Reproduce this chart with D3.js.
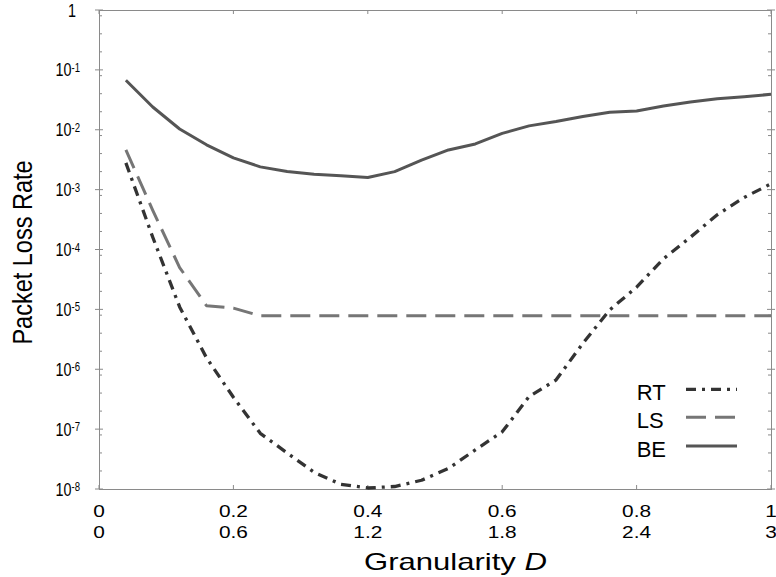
<!DOCTYPE html>
<meta charset="utf-8">
<style>

body {
  margin: 0;
  background: #fff;
  font-family: Arial, "Liberation Sans", Helvetica, sans-serif;
}

.frame { fill: none; stroke: #8a8a8a; stroke-width: 1; }
.tick { stroke: #8a8a8a; stroke-width: 1; }
.series { fill: none; stroke-linejoin: round; }

</style>
<body>
<script src="https://cdnjs.cloudflare.com/ajax/libs/d3/7.8.5/d3.min.js"></script>
<script>

// granularity (top row of x labels), one point every 0.04
var granularity = [0.04, 0.08, 0.12, 0.16, 0.20, 0.24, 0.28, 0.32, 0.36, 0.40,
                   0.44, 0.48, 0.52, 0.56, 0.60, 0.64, 0.68, 0.72, 0.76, 0.80,
                   0.84, 0.88, 0.92, 0.96, 1.00];

var rtLoss = [2.8e-3, 1.6e-4, 1.1e-5, 1.55e-6, 3.4e-7, 8.5e-8, 4.0e-8, 1.9e-8, 1.2e-8, 1.04e-8,
              1.1e-8, 1.4e-8, 2.2e-8, 4.5e-8, 9.0e-8, 3.5e-7, 6.6e-7, 2.7e-6, 9.8e-6, 2.35e-5,
              7.0e-5, 1.6e-4, 3.8e-4, 7.4e-4, 1.25e-3];

var lsLoss = [4.6e-3, 4.5e-4, 5.0e-5, 1.15e-5, 1.05e-5, 7.8e-6, 7.8e-6, 7.8e-6, 7.8e-6, 7.8e-6,
              7.8e-6, 7.8e-6, 7.8e-6, 7.8e-6, 7.8e-6, 7.8e-6, 7.8e-6, 7.8e-6, 7.8e-6, 7.8e-6,
              7.8e-6, 7.8e-6, 7.8e-6, 7.8e-6, 7.8e-6];

var beLoss = [0.067, 0.024, 0.0103, 0.0056, 0.0034, 0.0024, 0.0020, 0.0018, 0.0017, 0.00159,
              0.0020, 0.0031, 0.0046, 0.0058, 0.0087, 0.0116, 0.0137, 0.0166, 0.0196, 0.0206,
              0.0249, 0.0291, 0.033, 0.0357, 0.039];

var seriesNames = ["RT", "LS", "BE"];
var seriesColors = ["#333333", "#767676", "#555555"];
var seriesDash = ["10,6,3,6", "20,9", null];
var seriesWidth = [3.3, 3, 3];

var xTicks = [0, 0.2, 0.4, 0.6, 0.8, 1];
var xTickLabels = ["0", "0.2", "0.4", "0.6", "0.8", "1"];
var xTickLabels2 = ["0", "0.6", "1.2", "1.8", "2.4", "3"];
var yExponents = [0, -1, -2, -3, -4, -5, -6, -7, -8];
var yMinorMult = [2, 4, 8];

var width = 776;
var height = 577;
var plotLeft = 99, plotRight = 771, plotTop = 10, plotBottom = 489;

var x = d3.scaleLinear().domain([0, 1]).range([plotLeft, plotRight]);
var y = d3.scaleLog().domain([1e-8, 1]).range([plotBottom, plotTop]);

var svg = d3.select("body").append("svg")
    .attr("width", width)
    .attr("height", height);

// minor tick values
var minors = [];
yExponents.forEach(function(e) {
  if (e > -8) {
    yMinorMult.forEach(function(m) { minors.push(m * Math.pow(10, e - 1)); });
  }
});

// ticks on left and right sides
[plotLeft, plotRight].forEach(function(xx, side) {
  var dir = side == 0 ? 1 : -1;
  svg.selectAll(null)
      .data(yExponents)
    .enter().append("line")
      .attr("class", "tick")
      .attr("x1", xx - 4 * dir)
      .attr("x2", xx + 4 * dir)
      .attr("y1", function(e) { return y(Math.pow(10, e)); })
      .attr("y2", function(e) { return y(Math.pow(10, e)); });
  svg.selectAll(null)
      .data(minors)
    .enter().append("line")
      .attr("class", "tick")
      .attr("x1", xx)
      .attr("x2", xx + 3 * dir)
      .attr("y1", function(d) { return y(d); })
      .attr("y2", function(d) { return y(d); });
});

[plotBottom, plotTop].forEach(function(yy, side) {
  var dir = side == 0 ? -1 : 1;
  svg.selectAll(null)
      .data(xTicks)
    .enter().append("line")
      .attr("class", "tick")
      .attr("x1", function(d) { return x(d); })
      .attr("x2", function(d) { return x(d); })
      .attr("y1", yy)
      .attr("y2", yy + 4 * dir);
});

svg.append("rect")
    .attr("class", "frame")
    .attr("x", plotLeft + 0.5)
    .attr("y", plotTop + 0.5)
    .attr("width", plotRight - plotLeft)
    .attr("height", plotBottom - plotTop);

// y tick labels: 1, 10^-1 ... 10^-8
var yLab = svg.selectAll(null)
    .data(yExponents)
  .enter().append("text")
    .attr("text-anchor", "end")
    .attr("font-size", 18)
    .attr("transform", function(e) {
      var xx = e == 0 ? 76 : 80;
      return "translate(" + xx + "," + (y(Math.pow(10, e)) + 6.5) + ") scale(0.8,1)";
    });

yLab.each(function(e) {
  var t = d3.select(this);
  if (e == 0) {
    t.text("1");
  } else {
    t.append("tspan").text("10");
    t.append("tspan").attr("font-size", 12).attr("dy", -4.5).text(e);
  }
});

// x tick labels, two rows
svg.selectAll(null)
    .data(xTicks)
  .enter().append("text")
    .attr("text-anchor", "middle")
    .attr("font-size", 16.3)
    .attr("transform", function(d) { return "translate(" + x(d) + ",516.7) scale(1.28,1)"; })
    .text(function(d, i) { return xTickLabels[i]; });

svg.selectAll(null)
    .data(xTicks)
  .enter().append("text")
    .attr("text-anchor", "middle")
    .attr("font-size", 16.3)
    .attr("transform", function(d) { return "translate(" + x(d) + ",538.3) scale(1.28,1)"; })
    .text(function(d, i) { return xTickLabels2[i]; });

// axis titles
var xTitle = svg.append("text")
    .attr("text-anchor", "middle")
    .attr("font-size", 23)
    .attr("transform", "translate(455.5,570) scale(1.35,1)");
xTitle.append("tspan").text("Granularity ");
xTitle.append("tspan").attr("font-style", "italic").text("D");

svg.append("text")
    .attr("text-anchor", "middle")
    .attr("font-size", 23.5)
    .attr("transform", "translate(31.5,252.5) scale(1.16,1) rotate(-90)")
    .text("Packet Loss Rate");

// series
var allSeries = [rtLoss, lsLoss, beLoss];

var line = d3.line()
    .x(function(d, i) { return x(granularity[i]); })
    .y(function(d) { return y(d); });

allSeries.forEach(function(vals, k) {
  svg.append("path")
      .datum(vals)
      .attr("class", "series")
      .attr("stroke", seriesColors[k])
      .attr("stroke-width", seriesWidth[k])
      .attr("stroke-dasharray", seriesDash[k])
      .attr("d", line);
});

// legend
var legendY = [389.3, 417.3, 446];
seriesNames.forEach(function(name, k) {
  svg.append("text")
      .attr("x", 636.7)
      .attr("y", legendY[k] + 10.5)
      .attr("font-size", 22)
      .text(name);
  svg.append("line")
      .attr("x1", 686)
      .attr("x2", 737)
      .attr("y1", legendY[k])
      .attr("y2", legendY[k])
      .attr("stroke", seriesColors[k])
      .attr("stroke-width", seriesWidth[k])
      .attr("stroke-dasharray", seriesDash[k]);
});

</script>
